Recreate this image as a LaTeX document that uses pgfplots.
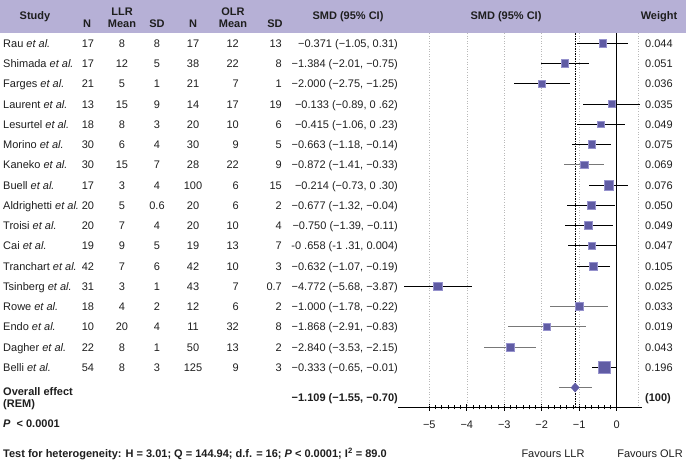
\documentclass[border=0pt]{standalone}
\usepackage{pgfplots}
\pgfplotsset{compat=1.18}
\usepackage{pgfplotstable}
\usepackage{fontspec}
\setmainfont{Liberation Sans}

\definecolor{hdr}{RGB}{182,176,214}
\definecolor{sqcol}{RGB}{96,92,164}
\definecolor{sqedge}{RGB}{150,146,205}
\definecolor{txt}{RGB}{30,30,30}
\definecolor{cigrey}{RGB}{120,120,120}

% row, SMD, lower and upper 95% CI, half side of the square, grey CI line
\pgfplotstableread{
row smd lo hi sz grey
1 -0.371 -1.05 0.31 3.6 0
2 -1.384 -2.01 -0.75 3.9 0
3 -2.000 -2.75 -1.25 3.6 0
4 -0.133 -0.89 0.62 3.6 0
5 -0.415 -1.06 0.23 3.4 0
6 -0.663 -1.18 -0.14 3.9 0
7 -0.872 -1.41 -0.33 3.9 1
8 -0.214 -0.73 0.30 4.8 0
9 -0.677 -1.32 -0.04 3.6 0
10 -0.750 -1.39 -0.11 3.9 0
11 -0.658 -1.31 0.004 3.4 0
12 -0.632 -1.07 -0.19 4.1 0
13 -4.772 -5.68 -3.87 4.1 0
14 -1.000 -1.78 -0.22 3.9 1
15 -1.868 -2.91 -0.83 3.4 1
16 -2.840 -3.53 -2.15 4.1 1
17 -0.333 -0.65 -0.01 5.6 0
}\studies

\newcommand{\fs}{\fontsize{11}{13}\selectfont}

\begin{document}
\begin{tikzpicture}[every node/.append style={inner sep=0pt, text=txt, font=\fs}]
\useasboundingbox (0,0) rectangle (686pt,-460pt);
\fill[hdr] (0,0) rectangle (686pt,-33pt);

\begin{axis}[
    at={(398.1pt,-407pt)}, anchor=south west,
    scale only axis, width=243.6pt, height=374pt,
    xmin=-5.8333, xmax=0.6667, ymin=-18.96, ymax=-0.49,
    axis x line*=bottom, axis y line=none,
    axis line style={black, line width=0.8pt},
    xtick={-5,-4,-3,-2,-1,0},
    xticklabels={−5,−4,−3,−2,−1,0},
    minor x tick num=5,
    tick align=center, xtick align=center,
    major tick length=7pt, minor tick length=4.5pt,
    tick style={black, line width=0.8pt},
    xticklabel style={anchor=base, yshift=-18pt, font=\fs, text=txt},
    clip=false,
]
    % grid lines, no-effect line and overall effect line
    \addplot[gray!55, dotted, line width=0.6pt] coordinates {(-5,-0.49) (-5,-18.96)};
    \addplot[gray!55, dotted, line width=0.6pt] coordinates {(-4,-0.49) (-4,-18.96)};
    \addplot[gray!55, dotted, line width=0.6pt] coordinates {(-3,-0.49) (-3,-18.96)};
    \addplot[gray!55, dotted, line width=0.6pt] coordinates {(-2,-0.49) (-2,-18.96)};
    \addplot[gray!55, dotted, line width=0.6pt] coordinates {(-1,-0.49) (-1,-18.96)};
    \addplot[gray!55, dotted, line width=0.6pt] coordinates {(0.58,-0.49) (0.58,-18.96)};
    \addplot[black, line width=0.6pt, dash pattern=on 1.5pt off 1pt] coordinates {(-1.109,-0.49) (-1.109,-18.96)};
    \addplot[black, line width=0.8pt] coordinates {(0,-0.49) (0,-18.96)};

    % confidence intervals
    \addplot[draw=none, mark=none,
        x filter/.expression={\thisrow{grey}>0.5 ? nan : x},
        error bars/.cd, x dir=both, x explicit, error mark=none,
        error bar style={draw=black, line width=0.7pt}]
        table[x=smd, y expr=-\thisrow{row},
              x error plus expr=\thisrow{hi}-\thisrow{smd},
              x error minus expr=\thisrow{smd}-\thisrow{lo}] {\studies};
    \addplot[draw=none, mark=none,
        x filter/.expression={\thisrow{grey}>0.5 ? x : nan},
        error bars/.cd, x dir=both, x explicit, error mark=none,
        error bar style={draw=cigrey, line width=0.7pt}]
        table[x=smd, y expr=-\thisrow{row},
              x error plus expr=\thisrow{hi}-\thisrow{smd},
              x error minus expr=\thisrow{smd}-\thisrow{lo}] {\studies};

    % study estimates
    \addplot[scatter, only marks, mark=square*,
        mark options={line width=0.6pt},
        scatter/use mapped color={draw=sqedge, fill=sqcol},
        visualization depends on={\thisrow{sz} \as \sz},
        scatter/@pre marker code/.append style={/tikz/mark size=\sz pt}]
        table[x=smd, y expr=-\thisrow{row}] {\studies};

    % overall effect
    \addplot[only marks, mark=diamond*, mark size=4.5pt,
        mark options={xscale=1.2, fill=sqcol, draw=sqcol},
        error bars/.cd, x dir=both, x explicit, error mark=none,
        error bar style={draw=cigrey, line width=0.7pt}]
        coordinates {(-1.109,-18) +- (0.441,0)};
\end{axis}

% header
\node[anchor=base] at (35pt,-20pt) {\bfseries Study};
\node[anchor=base] at (87pt,-28pt) {\bfseries N};
\node[anchor=base] at (122pt,-16pt) {\bfseries LLR};
\node[anchor=base] at (122pt,-28pt) {\bfseries Mean};
\node[anchor=base] at (157pt,-28pt) {\bfseries SD};
\node[anchor=base] at (193pt,-28pt) {\bfseries N};
\node[anchor=base] at (233pt,-16pt) {\bfseries OLR};
\node[anchor=base] at (233pt,-28pt) {\bfseries Mean};
\node[anchor=base] at (275pt,-28pt) {\bfseries SD};
\node[anchor=base] at (348pt,-20pt) {\bfseries SMD (95\% CI)};
\node[anchor=base] at (506pt,-20pt) {\bfseries SMD (95\% CI)};
\node[anchor=base] at (659pt,-20pt) {\bfseries Weight};

% study rows
\foreach \i/\nm/\na/\ma/\sa/\nb/\mb/\sb/\ci/\w in {
  1/Rau/17/8/8/17/12/13/{−0.371 (−1.05, 0.31)}/0.044,
  2/Shimada/17/12/5/38/22/8/{−1.384 (−2.01, −0.75)}/0.051,
  3/Farges/21/5/1/21/7/1/{−2.000 (−2.75, −1.25)}/0.036,
  4/Laurent/13/15/9/14/17/19/{−0.133 (−0.89, 0 .62)}/0.035,
  5/Lesurtel/18/8/3/20/10/6/{−0.415 (−1.06, 0 .23)}/0.049,
  6/Morino/30/6/4/30/9/5/{−0.663 (−1.18, −0.14)}/0.075,
  7/Kaneko/30/15/7/28/22/9/{−0.872 (−1.41, −0.33)}/0.069,
  8/Buell/17/3/4/100/6/15/{−0.214 (−0.73, 0 .30)}/0.076,
  9/Aldrighetti/20/5/0.6/20/6/2/{−0.677 (−1.32, −0.04)}/0.050,
  10/Troisi/20/7/4/20/10/4/{−0.750 (−1.39, −0.11)}/0.049,
  11/Cai/19/9/5/19/13/7/{-0 .658 (-1 .31, 0.004)}/0.047,
  12/Tranchart/42/7/6/42/10/3/{−0.632 (−1.07, −0.19)}/0.105,
  13/Tsinberg/31/3/1/43/7/0.7/{−4.772 (−5.68, −3.87)}/0.025,
  14/Rowe/18/4/2/12/6/2/{−1.000 (−1.78, −0.22)}/0.033,
  15/Endo/10/20/4/11/32/8/{−1.868 (−2.91, −0.83)}/0.019,
  16/Dagher/22/8/1/50/13/2/{−2.840 (−3.53, −2.15)}/0.043,
  17/Belli/54/8/3/125/9/3/{−0.333 (−0.65, −0.01)}/0.196}
{
  \pgfmathsetmacro\yy{-(43.3+20.25*(\i-1)+4)}
  \node[anchor=base west] at (3pt,\yy pt) {\nm\ \textit{et al.}};
  \node[anchor=base] at (88pt,\yy pt) {\na};
  \node[anchor=base] at (122pt,\yy pt) {\ma};
  \node[anchor=base] at (157pt,\yy pt) {\sa};
  \node[anchor=base] at (193pt,\yy pt) {\nb};
  \node[anchor=base east] at (239pt,\yy pt) {\mb};
  \node[anchor=base east] at (282pt,\yy pt) {\sb};
  \node[anchor=base east] at (398pt,\yy pt) {\ci};
  \node[anchor=base west] at (645pt,\yy pt) {\w};
}

% summary and footer
\node[anchor=base west] at (3pt,-395pt) {\bfseries Overall effect};
\node[anchor=base west] at (3pt,-407pt) {\bfseries (REM)};
\node[anchor=base east] at (398pt,-401pt) {\bfseries −1.109 (−1.55, −0.70)};
\node[anchor=base west] at (645pt,-401pt) {\bfseries (100)};
\node[anchor=base west] at (3pt,-427pt) {\bfseries\itshape P\upshape\ \ < 0.0001};
\node[anchor=base west] at (3pt,-457pt) {\bfseries Test for heterogeneity: H = 3.01; Q = 144.94; d.f. = 16; \itshape P\upshape\ < 0.0001; I\textsuperscript{2} = 89.0};
\node[anchor=base] at (553pt,-457pt) {Favours LLR};
\node[anchor=base] at (650pt,-457pt) {Favours OLR};
\end{tikzpicture}
\end{document}
